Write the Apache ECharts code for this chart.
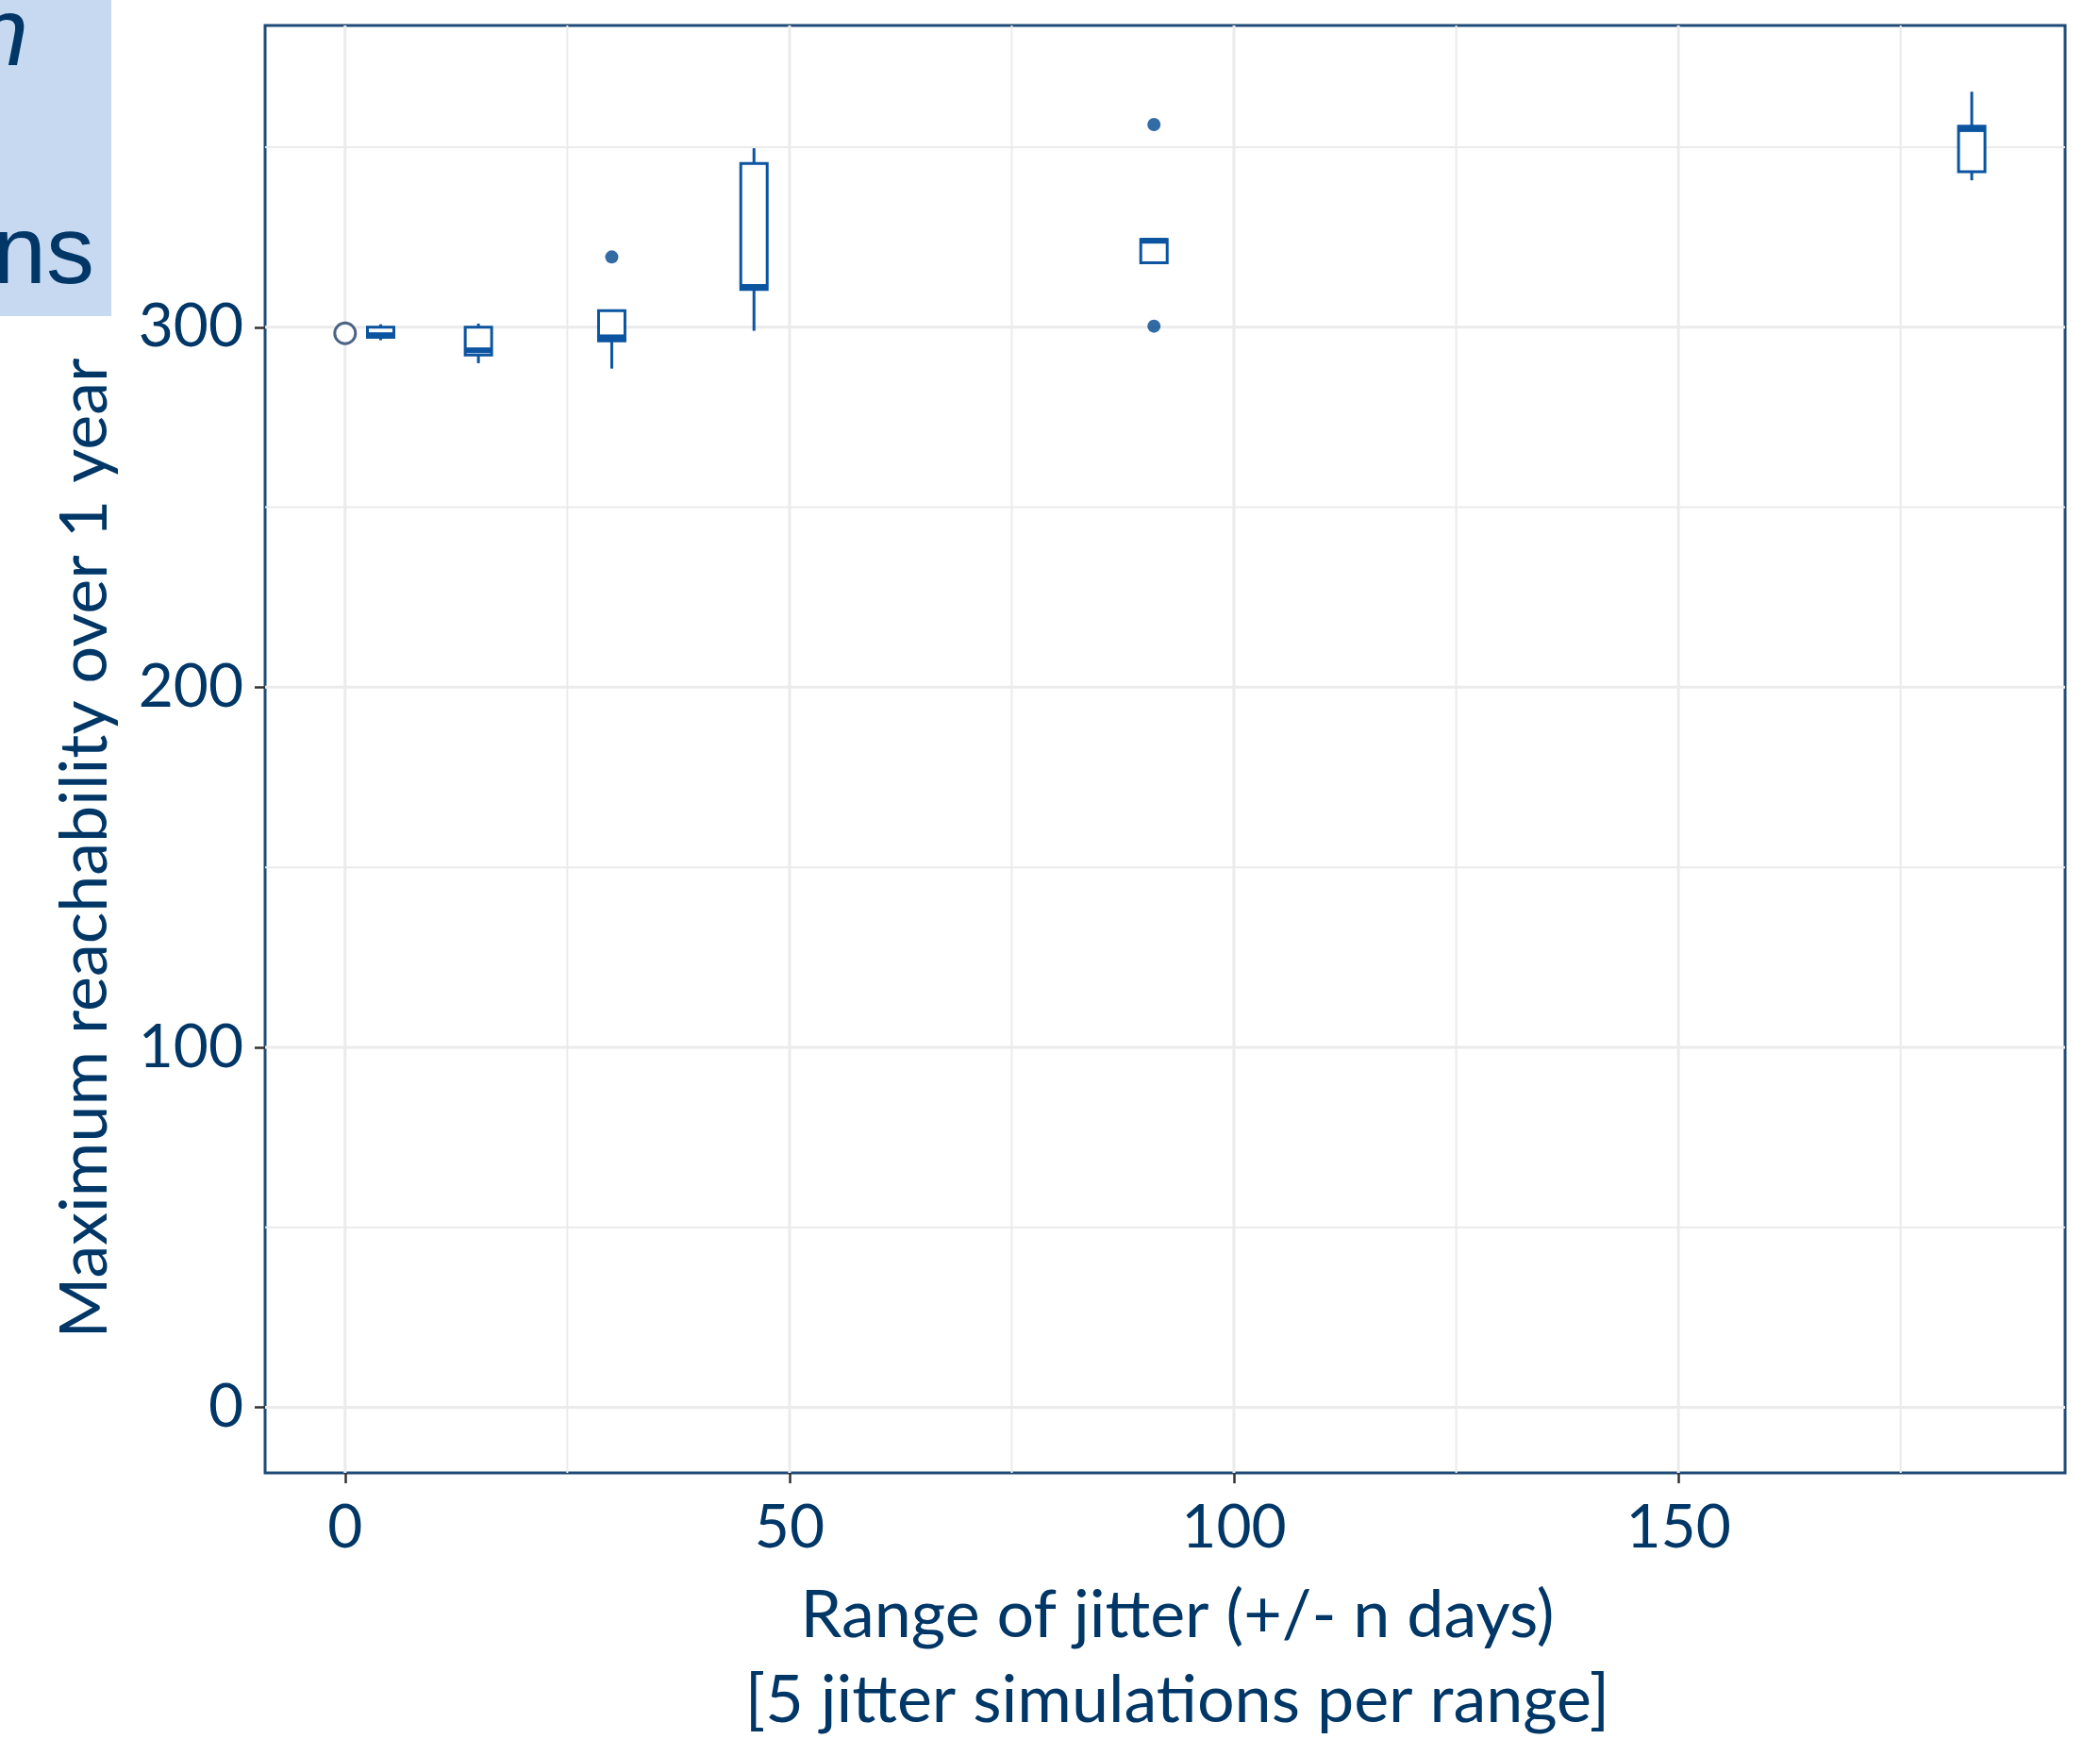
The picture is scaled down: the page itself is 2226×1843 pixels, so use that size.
<!DOCTYPE html>
<html>
<head>
<meta charset="utf-8">
<title>Maximum reachability vs jitter range</title>
<script src="https://cdn.jsdelivr.net/npm/echarts@6/dist/echarts.min.js"></script>
<style>
  html, body { margin: 0; padding: 0; background: #fff; }
  #chart { width: 2226px; height: 1843px; }
</style>
</head>
<body>
<div id="chart"></div>
<script>
// box statistics per jitter range
var jitterDays  = [4, 15, 30, 46, 91, 183];
var whiskerLow  = [296.4, 290, 288.5, 299, 317.9, 340.8];
var lowerQuart  = [297.2, 292.3, 296.2, 310.5, 317.9, 343.2];
var medianVal   = [297.8, 293.6, 297.2, 311.2, 324, 355];
var upperQuart  = [300, 300, 304.6, 345.5, 324.4, 355.8];
var whiskerHigh = [300.8, 301, 304.6, 349.7, 324.4, 365.4];

// outliers
var outlierDays = [30, 91, 91];
var outlierVals = [319.5, 356.3, 300.3];

// original network (no jitter)
var noJitterDays = [0];
var noJitterVals = [298.3];

// axis ticks / grid
var xTicks = [0, 50, 100, 150];
var xMinor = [25, 75, 125, 175];
var yTicks = [0, 100, 200, 300];
var yMinor = [50, 150, 250, 350];

var navy = "#003767";
var boxColor = "#0b54a0";
var font = "Lato";

var chart = echarts.init(document.getElementById("chart"));

function hLines(values, width) {
  return {
    type: "custom",
    silent: true,
    z: 1,
    data: values.map(function (v) { return [0, v]; }),
    renderItem: function (params, api) {
      var cs = params.coordSys;
      var y = api.coord([0, api.value(1)])[1];
      return {
        type: "line",
        shape: { x1: cs.x, y1: y, x2: cs.x + cs.width, y2: y },
        style: { stroke: "#ebebeb", lineWidth: width }
      };
    }
  };
}

function vLines(values, width) {
  return {
    type: "custom",
    silent: true,
    z: 1,
    data: values.map(function (v) { return [v, 0]; }),
    renderItem: function (params, api) {
      var cs = params.coordSys;
      var x = api.coord([api.value(0), 0])[0];
      return {
        type: "line",
        shape: { x1: x, y1: cs.y, x2: x, y2: cs.y + cs.height },
        style: { stroke: "#ebebeb", lineWidth: width }
      };
    }
  };
}

var boxData = jitterDays.map(function (d, i) {
  return [d, whiskerLow[i], lowerQuart[i], medianVal[i], upperQuart[i], whiskerHigh[i]];
});

chart.setOption({
  backgroundColor: "#ffffff",
  animation: false,
  graphic: [
    {
      type: "rect",
      left: 0,
      top: 0,
      shape: { width: 118, height: 335 },
      style: { fill: "#c6d9f1" }
    },
    {
      type: "text",
      x: 30,
      y: 92,
      style: {
        text: "n",
        fontSize: 102,
        fontStyle: "italic",
        fontFamily: "Liberation Sans",
        fill: navy,
        textAlign: "right",
        textVerticalAlign: "bottom"
      }
    },
    {
      type: "text",
      x: 100,
      y: 323,
      style: {
        text: "ns",
        fontSize: 102,
        fontFamily: "Liberation Sans",
        fill: navy,
        textAlign: "right",
        textVerticalAlign: "bottom"
      }
    }
  ],
  grid: {
    left: 281,
    right: 37,
    top: 27,
    bottom: 282,
    outerBoundsMode: "none",
    show: true,
    borderColor: "#1e4a78",
    borderWidth: 3,
    backgroundColor: "#ffffff"
  },
  xAxis: {
    type: "value",
    min: -9,
    max: 193.5,
    splitLine: { show: false },
    axisLine: { show: false, onZero: false },
    axisTick: {
      show: true,
      customValues: xTicks,
      length: 11,
      lineStyle: { color: "#333333", width: 2.5 }
    },
    axisLabel: {
      customValues: xTicks,
      fontSize: 64,
      fontFamily: font,
      color: navy,
      margin: 26
    },
    name: "Range of jitter (+/- n days)\n[5 jitter simulations per range]",
    nameLocation: "middle",
    nameGap: 106,
    nameTextStyle: {
      fontSize: 70,
      lineHeight: 90,
      fontFamily: font,
      color: navy,
      padding: [0, 0, 0, 26]
    }
  },
  yAxis: {
    type: "value",
    min: -18.2,
    max: 383.8,
    splitLine: { show: false },
    axisLine: { show: false, onZero: false },
    axisTick: {
      show: true,
      customValues: yTicks,
      length: 11,
      lineStyle: { color: "#333333", width: 2.5 }
    },
    axisLabel: {
      customValues: yTicks,
      fontSize: 64,
      fontFamily: font,
      color: navy,
      margin: 23
    },
    name: "Maximum reachability over 1 year",
    nameLocation: "middle",
    nameGap: 155,
    nameTextStyle: {
      fontSize: 70,
      lineHeight: 72,
      fontFamily: font,
      color: navy,
      padding: [0, 210, 0, 0]
    }
  },
  series: [
    hLines(yMinor, 2),
    hLines(yTicks, 3),
    vLines(xMinor, 2),
    vLines(xTicks, 3),
    {
      type: "custom",
      name: "jitter",
      z: 5,
      data: boxData,
      encode: { x: 0, y: [1, 2, 3, 4, 5] },
      renderItem: function (params, api) {
        var x = api.coord([api.value(0), 0])[0];
        var yLo = api.coord([0, api.value(1)])[1];
        var yQ1 = api.coord([0, api.value(2)])[1];
        var yMed = api.coord([0, api.value(3)])[1];
        var yQ3 = api.coord([0, api.value(4)])[1];
        var yHi = api.coord([0, api.value(5)])[1];
        var half = 14;
        var line = { stroke: boxColor, lineWidth: 3 };
        return {
          type: "group",
          children: [
            { type: "line", shape: { x1: x, y1: yHi, x2: x, y2: yQ3 }, style: line },
            { type: "line", shape: { x1: x, y1: yQ1, x2: x, y2: yLo }, style: line },
            {
              type: "rect",
              shape: { x: x - half, y: yQ3, width: half * 2, height: yQ1 - yQ3 },
              style: { fill: "#ffffff", stroke: boxColor, lineWidth: 3 }
            },
            {
              type: "line",
              shape: { x1: x - half, y1: yMed, x2: x + half, y2: yMed },
              style: { stroke: boxColor, lineWidth: 6 }
            }
          ]
        };
      }
    },
    {
      type: "scatter",
      name: "outliers",
      z: 6,
      symbol: "circle",
      symbolSize: 14,
      itemStyle: { color: "#00468e" },
      data: outlierDays.map(function (d, i) { return [d, outlierVals[i]]; })
    },
    {
      type: "scatter",
      name: "no jitter",
      z: 6,
      symbol: "circle",
      symbolSize: 22,
      itemStyle: { color: "#ffffff", borderColor: "#1f3d66", borderWidth: 3 },
      data: noJitterDays.map(function (d, i) { return [d, noJitterVals[i]]; })
    }
  ]
});
</script>
</body>
</html>
